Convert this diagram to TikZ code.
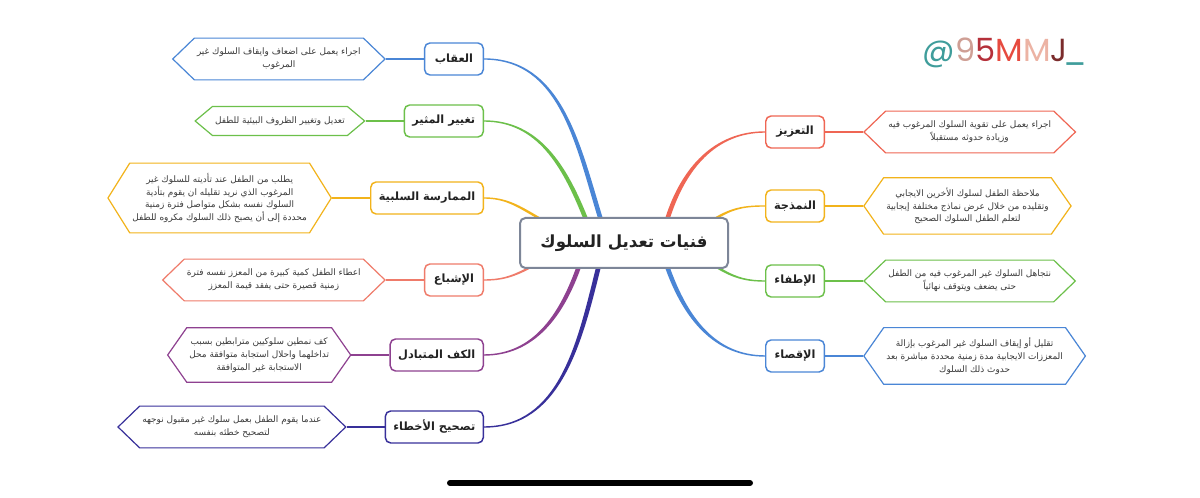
\documentclass[tikz,border=0pt]{standalone}
\usepackage{fontspec}
\usepackage{tikz}
\usetikzlibrary{calc,positioning,shapes.symbols,backgrounds}
\TeXXeTstate=1
\newfontfamily\arabicfont[Script=Arabic]{DejaVu Sans}
\newfontfamily\tagfont{Poppins}
\newcommand{\rl}[1]{\beginR #1\endR}
\definecolor{ink}{HTML}{222222}
\definecolor{notegray}{HTML}{3A3A3A}
\definecolor{coregray}{HTML}{7D8698}
\definecolor{brblue}{HTML}{4A86D6}
\definecolor{brgreen}{HTML}{6CC04A}
\definecolor{bryellow}{HTML}{F2B31B}
\definecolor{brsalmon}{HTML}{EF7B6A}
\definecolor{brred}{HTML}{EF6654}
\definecolor{brpurple}{HTML}{8E4190}
\definecolor{brindigo}{HTML}{38309A}
\definecolor{tagteal}{HTML}{3F9D9B}
\definecolor{tagrose}{HTML}{CF9F95}
\definecolor{tagcrimson}{HTML}{B5303A}
\definecolor{tagred}{HTML}{E64A3F}
\definecolor{tagpink}{HTML}{ECB3A4}
\definecolor{tagbrown}{HTML}{7B2C2C}
\tikzset{
  corebox/.style={draw=coregray,fill=white,line width=1.5pt,rounded corners=4pt,minimum width=156pt,minimum height=37.5pt,font=\arabicfont\bfseries\fontsize{12.5}{15}\selectfont,text=ink},
  topicbox/.style={draw=#1,fill=white,line width=1.1pt,rounded corners=4pt,minimum height=24pt,minimum width=44pt,inner xsep=6pt,font=\arabicfont\bfseries\fontsize{8.5}{10}\selectfont,text=ink},
  hexbox/.style={shape=signal,signal to=west and east,draw=#1,fill=white,line width=0.9pt,align=center,inner xsep=2pt,inner ysep=7.5pt,signal pointer angle=88,font=\arabicfont\fontsize{6.7}{9.6}\selectfont,text=notegray},
  twig/.style={draw=#1,line width=0.8pt}
}
% tapered branch: colour, start, out, end, in, end offset
\newcommand{\branch}[6]{%
  \fill[#1] ($(#2)+(-2.4,0)$) to[out=#3,in=#5] ($(#4)+(0,#6)$)
    -- ($(#4)-(0,#6)$) to[out=#5,in=#3] ($(#2)+(2.4,0)$) -- cycle;}

\begin{document}
\begin{tikzpicture}[x=0.75pt,y=0.75pt]
  \useasboundingbox (0,0) rectangle (1200,498);
  \node[corebox] (core) at (624,255) {\rl{فنيات تعديل السلوك}};

  % left side
  \node[topicbox=brblue,anchor=east] (punish) at (484,439) {\rl{العقاب}};
  \node[topicbox=brgreen,anchor=east] (stimulus) at (484,377) {\rl{تغيير المثير}};
  \node[topicbox=bryellow,anchor=east] (negpractice) at (484,300) {\rl{الممارسة السلبية}};
  \node[topicbox=brsalmon,anchor=east] (satiation) at (484,218) {\rl{الإشباع}};
  \node[topicbox=brpurple,anchor=east] (inhibit) at (484,143) {\rl{الكف المتبادل}};
  \node[topicbox=brindigo,anchor=east] (correct) at (484,71) {\rl{تصحيح الأخطاء}};

  \node[hexbox=brblue,left=28.5pt of punish] (punishnote)
    {\rl{اجراء يعمل على اضعاف وايقاف السلوك غير}\\\rl{المرغوب}};
  \node[hexbox=brgreen,signal pointer angle=80,left=28.5pt of stimulus] (stimulusnote)
    {\rl{تعديل وتغيير الظروف البيئية للطفل}};
  \node[hexbox=bryellow,signal pointer angle=116,left=28.5pt of negpractice] (negpracticenote)
    {\rl{يطلب من الطفل عند تأديته للسلوك غير}\\\rl{المرغوب الذي نريد تقليله ان يقوم بتأدية}\\
     \rl{السلوك نفسه بشكل متواصل فترة زمنية}\\\rl{محددة إلى أن يصبح ذلك السلوك مكروه للطفل}};
  \node[hexbox=brsalmon,left=28.5pt of satiation] (satiationnote)
    {\rl{اعطاء الطفل كمية كبيرة من المعزز نفسه فترة}\\\rl{زمنية قصيرة حتى يفقد قيمة المعزز}};
  \node[hexbox=brpurple,signal pointer angle=110,left=28.5pt of inhibit] (inhibitnote)
    {\rl{كف نمطين سلوكيين مترابطين بسبب}\\\rl{تداخلهما واحلال استجابة متوافقة محل}\\\rl{الاستجابة غير المتوافقة}};
  \node[hexbox=brindigo,left=28.5pt of correct] (correctnote)
    {\rl{عندما يقوم الطفل بعمل سلوك غير مقبول نوجهه}\\\rl{لتصحيح خطئه بنفسه}};

  % right side
  \node[topicbox=brred,anchor=west] (reinforce) at (765,366) {\rl{التعزيز}};
  \node[topicbox=bryellow,anchor=west] (modeling) at (765,292) {\rl{النمذجة}};
  \node[topicbox=brgreen,anchor=west] (extinct) at (765,217) {\rl{الإطفاء}};
  \node[topicbox=brblue,anchor=west] (timeout) at (765,142) {\rl{الإقصاء}};

  \node[hexbox=brred,right=28.5pt of reinforce] (reinforcenote)
    {\rl{اجراء يعمل على تقوية السلوك المرغوب فيه}\\\rl{وزيادة حدوثه مستقبلاً}};
  \node[hexbox=bryellow,signal pointer angle=110,right=28.5pt of modeling] (modelingnote)
    {\rl{ملاحظة الطفل لسلوك الأخرين الايجابي}\\\rl{وتقليده من خلال عرض نماذج مختلفة إيجابية}\\\rl{لتعلم الطفل السلوك الصحيح}};
  \node[hexbox=brgreen,right=28.5pt of extinct] (extinctnote)
    {\rl{نتجاهل السلوك غير المرغوب فيه من الطفل}\\\rl{حتى يضعف ويتوقف نهائياً}};
  \node[hexbox=brblue,signal pointer angle=110,right=28.5pt of timeout] (timeoutnote)
    {\rl{تقليل أو إيقاف السلوك غير المرغوب بإزالة}\\\rl{المعززات الايجابية مدة زمنية محددة مباشرة بعد}\\\rl{حدوث ذلك السلوك}};

  \draw[twig=brblue] (punishnote.east) -- (punish.west);
  \draw[twig=brgreen] (stimulusnote.east) -- (stimulus.west);
  \draw[twig=bryellow] (negpracticenote.east) -- (negpractice.west);
  \draw[twig=brsalmon] (satiationnote.east) -- (satiation.west);
  \draw[twig=brpurple] (inhibitnote.east) -- (inhibit.west);
  \draw[twig=brindigo] (correctnote.east) -- (correct.west);
  \draw[twig=brred] (reinforce.east) -- (reinforcenote.west);
  \draw[twig=bryellow] (modeling.east) -- (modelingnote.west);
  \draw[twig=brgreen] (extinct.east) -- (extinctnote.west);
  \draw[twig=brblue] (timeout.east) -- (timeoutnote.west);

  \coordinate (bpunish) at ($(core.north)+(-24,0)$);
  \coordinate (bstimulus) at ($(core.north)+(-39,0)$);
  \coordinate (bnegpractice) at ($(core.north)+(-87,0)$);
  \coordinate (bsatiation) at ($(core.south)+(-97,0)$);
  \coordinate (binhibit) at ($(core.south)+(-46,0)$);
  \coordinate (bcorrect) at ($(core.south)+(-26,0)$);
  \coordinate (breinforce) at ($(core.north)+(44,0)$);
  \coordinate (bmodeling) at ($(core.north)+(94,0)$);
  \coordinate (bextinct) at ($(core.south)+(96,0)$);
  \coordinate (btimeout) at ($(core.south)+(44,0)$);

  \begin{scope}[on background layer]
    \fill[white] (0,0) rectangle (1200,498);
    \branch{brblue}{bpunish}{107}{punish.east}{0}{-0.7}
    \branch{brgreen}{bstimulus}{112}{stimulus.east}{0}{-0.7}
    \branch{bryellow}{bnegpractice}{150}{negpractice.east}{0}{-0.7}
    \branch{brsalmon}{bsatiation}{207}{satiation.east}{0}{0.7}
    \branch{brpurple}{binhibit}{250}{inhibit.east}{0}{0.7}
    \branch{brindigo}{bcorrect}{256}{correct.east}{0}{0.7}
    \branch{brred}{breinforce}{72}{reinforce.west}{180}{0.7}
    \branch{bryellow}{bmodeling}{30}{modeling.west}{180}{0.7}
    \branch{brgreen}{bextinct}{330}{extinct.west}{180}{-0.7}
    \branch{brblue}{btimeout}{290}{timeout.west}{180}{-0.7}
  \end{scope}

  \node[font=\tagfont\fontsize{24}{24}\selectfont] (handle) at (1005,445)
    {\textcolor{tagteal}{@}\textcolor{tagrose}{9}\textcolor{tagcrimson}{5}\textcolor{tagred}{M}\textcolor{tagpink}{M}\textcolor{tagbrown}{J}\kern-3pt\textcolor{tagteal}{\_}};
  \draw[line width=4.5pt,line cap=round] (450,15) -- (750,15);
\end{tikzpicture}
\end{document}
